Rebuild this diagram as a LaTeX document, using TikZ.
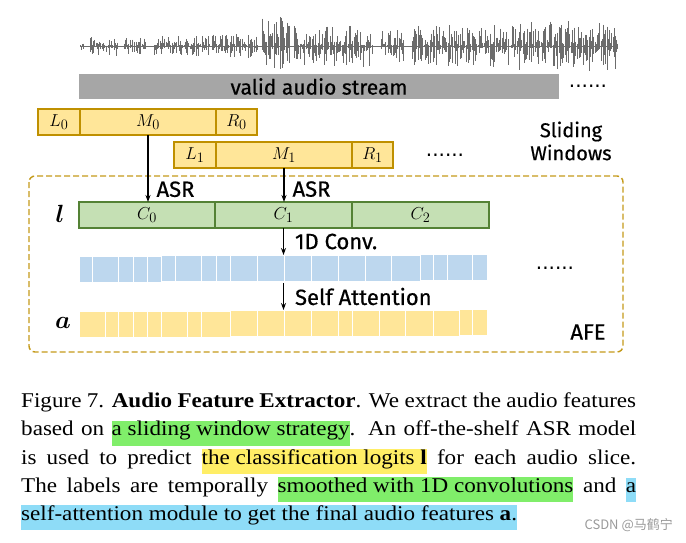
\documentclass[tikz,border=0pt]{standalone}
\usepackage{amsmath,amssymb}
\usepackage{fontspec}
\setmainfont{Liberation Serif}
\newfontfamily\capfont[FakeStretch=1.1]{Liberation Serif}
\newfontfamily\labelfont[FakeBold=0.6]{Fira Sans}
\newfontfamily\dotfont{DejaVu Sans}
\newfontfamily\cjkfont{Noto Sans CJK SC}
\usepackage{xcolor}
\usepackage{tikz}
\usetikzlibrary{arrows.meta,positioning}
\definecolor{wavegray}{RGB}{108,108,108}
\definecolor{streamgray}{RGB}{166,166,166}
\definecolor{winfill}{RGB}{255,230,153}
\definecolor{windraw}{RGB}{191,144,0}
\definecolor{logitfill}{RGB}{197,224,180}
\definecolor{logitdraw}{RGB}{84,130,53}
\definecolor{convblue}{RGB}{189,215,238}
\definecolor{featyellow}{RGB}{255,230,153}
\definecolor{afedash}{RGB}{196,154,26}
\definecolor{hlgreen}{RGB}{128,238,106}
\definecolor{hlyellow}{RGB}{255,238,102}
\definecolor{hlblue}{RGB}{142,220,247}
\newcommand{\hlt}[2]{{\setlength{\fboxsep}{0pt}\colorbox{#1}{\rule[-10pt]{0pt}{24pt}#2}}}

\begin{document}
\begin{tikzpicture}[x=1pt,y=-1pt,
    wincell/.style={draw=windraw,fill=winfill,line width=1.2pt,minimum height=26pt,inner sep=0pt,outer sep=0pt,font=\fontsize{19}{22}\selectfont},
    logit/.style={draw=logitdraw,fill=logitfill,line width=1.2pt,minimum height=26pt,inner sep=0pt,outer sep=0pt,font=\fontsize{19}{22}\selectfont},
    featcell/.style={draw=white,line width=1pt,minimum height=26pt,inner sep=0pt,outer sep=0pt,anchor=north west},
    lbl/.style={font=\labelfont\fontsize{22}{24}\selectfont,inner sep=1pt},
    flow/.style={-{Stealth[length=7pt,width=5pt]},line width=1.1pt},
    dots/.style={font=\dotfont\fontsize{20}{22}\selectfont,inner sep=0pt},
    capline/.style={anchor=base west,inner sep=0pt,font=\capfont\fontsize{21}{28}\selectfont}]
    \useasboundingbox (0,0) rectangle (686,542);
    \pgfmathsetseed{42}
    \draw[wavegray,line width=0.9pt] (80,46) -- (618,46);
    \foreach \xa/\xb/\amp in {80/84/4,90/118/10,124/146/8,154/210/10,212/258/12,262/290/29,294/372/21,381/404/16,412/508/21,511/618/25}{
        \pgfmathtruncatemacro\n{(\xb-\xa)/1.2}
        \foreach \i in {0,...,\n}{
            \pgfmathsetmacro\x{\xa+1.2*\i}
            \pgfmathsetmacro\up{\amp*(0.12+0.88*rnd)^1.6}
            \pgfmathsetmacro\dn{\amp*(0.12+0.88*rnd)^1.6}
            \draw[wavegray,line width=0.9pt] (\x,46-\up) -- (\x,46+\dn);
        }
    }
    \node[fill=streamgray,minimum width=480,minimum height=25,inner sep=0pt,font=\labelfont\fontsize{21}{22}\selectfont] (stream) at (319,86.5) {valid audio stream};
    \node[dots] (dots0) at (588,86) {......};

    \node[wincell,minimum width=42] (L0) at (59,122) {$L_0$};
    \node[wincell,minimum width=136,right=0pt of L0] (M0) {$M_0$};
    \node[wincell,minimum width=41,right=0pt of M0] (R0) {$R_0$};
    \node[wincell,minimum width=42] (L1) at (195,155) {$L_1$};
    \node[wincell,minimum width=136,right=0pt of L1] (M1) {$M_1$};
    \node[wincell,minimum width=41,right=0pt of M1] (R1) {$R_1$};
    \node[dots] (dots1) at (445,155) {......};
    \node[lbl,align=center,font=\labelfont\fontsize{20}{23}\selectfont] (sliding) at (571,141) {Sliding\\Windows};

    \draw[afedash,line width=1.4pt,dash pattern=on 6pt off 3pt,rounded corners=6pt] (29,176) rectangle (623,352);

    \node[logit,minimum width=136] (C0) at (147,215) {$C_0$};
    \node[logit,minimum width=137,right=0pt of C0] (C1) {$C_1$};
    \node[logit,minimum width=137,right=0pt of C1] (C2) {$C_2$};
    \node[font=\fontsize{24}{26}\selectfont] (lrow) at (60,214) {$\boldsymbol{l}$};

    \foreach \xa/\xb/\dy [count=\i] in {79/92/256,92/118.5/256,118.5/133/256,133/147/256,147/161/256,161/175/255,175/201.5/255,201.5/216/255,216/230/255,230/257/255,257/284/255,284/311/255,311/338/255,338/365/255,365/391/255,391/420/255,420/433/254,433/447/254,447/472/254,472/487/254}{
        \pgfmathsetmacro\w{\xb-\xa}
        \node[featcell,fill=convblue,minimum width=\w] (b\i) at (\xa,\dy) {};
    }
    \foreach \xa/\xb/\dy [count=\i] in {79/105/311,105/118.5/311,118.5/133/311,133/147/311,147/161/311,161/187.5/311,187.5/201.5/311,201.5/230/311,230/257/310,257/284/310,284/311/310,311/338/310,338/352/310,352/379/310,379/405/310,405/433/310,433/459/310,459/472/309,472/487/309}{
        \pgfmathsetmacro\w{\xb-\xa}
        \node[featcell,fill=featyellow,minimum width=\w] (y\i) at (\xa,\dy) {};
    }
    \node[dots] (dots2) at (555,268) {......};
    \node[font=\fontsize{24}{26}\selectfont] (arow) at (63,323) {$\boldsymbol{a}$};
    \node[lbl] (afe) at (588,332) {AFE};

    \draw[flow] (M0.south) -- (M0.south |- C0.north) node[lbl,pos=0.81,right=7pt] (asr0) {ASR};
    \draw[flow] (M1.south) -- (M1.south |- C1.north) node[lbl,pos=0.62,right=7pt] (asr1) {ASR};
    \draw[flow] (C1.south) -- (C1.south |- b11.north) node[lbl,midway,right=10pt] (conv) {1D Conv.};
    \draw[flow] ([yshift=-2pt]C1.south |- b11.south) -- (C1.south |- y10.north) node[lbl,midway,right=10pt] (attn) {Self Attention};

    \node[capline] (cap1) at (21,407) {\makebox[615pt][s]{Figure 7. \textbf{Audio Feature Extractor}. We extract the audio features}};
    \node[capline] (cap2) at (21,435.5) {\makebox[615pt][s]{based on \hlt{hlgreen}{a sliding window strategy}. An off-the-shelf ASR model}};
    \node[capline] (cap3) at (21,464) {\makebox[615pt][s]{is used to predict \hlt{hlyellow}{the classification logits \textbf{l}} for each audio slice.}};
    \node[capline] (cap4) at (21,492) {\makebox[615pt][s]{The labels are temporally \hlt{hlgreen}{smoothed with 1D convolutions} and \hlt{hlblue}{a}}};
    \node[capline] (cap5) at (21,520) {\hlt{hlblue}{self-attention module to get the final audio features \textbf{a}.}};
    \node[anchor=base east,inner sep=0pt,text=black!40,font=\cjkfont\fontsize{13}{15}\selectfont] (mark) at (673,529) {CSDN @马鹤宁};
\end{tikzpicture}
\end{document}
